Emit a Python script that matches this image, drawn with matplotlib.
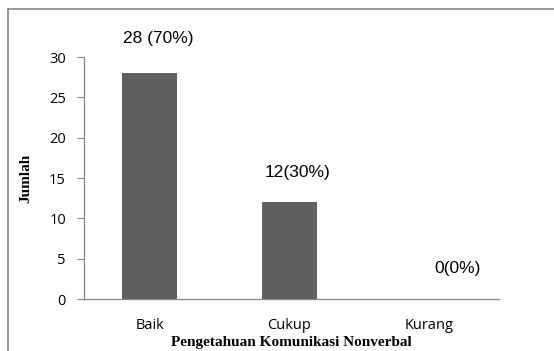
import matplotlib
matplotlib.use("Agg")
import matplotlib.pyplot as plt
from matplotlib.lines import Line2D

categories = ["Baik", "Cukup", "Kurang"]
counts = [28, 12, 0]
labels = ["28 (70%)", "12(30%)", "0(0%)"]
label_pos = [(0.06, 32.3), (1.06, 15.7), (2.2, 3.8)]

fig = plt.figure(figsize=(5.54, 3.51), dpi=100)
ax = fig.add_axes([0.1516, 0.148, 0.749, 0.6896])

ax.bar(range(len(categories)), counts, width=0.39, color="#606060")
ax.set_xlim(-0.468, 2.496)
ax.set_ylim(0, 30)
ax.set_yticks(range(0, 31, 5))
ax.set_xticks(range(len(categories)))
ax.set_xticklabels(categories)

for s in ["top", "right"]:
    ax.spines[s].set_visible(False)
for s in ["left", "bottom"]:
    ax.spines[s].set_color("#868686")
    ax.spines[s].set_linewidth(0.9)

ax.tick_params(axis="y", length=5, color="#868686", labelsize=10.5, pad=8)
ax.tick_params(axis="x", length=0, labelsize=10.5, pad=14)
for t in ax.get_xticklabels() + ax.get_yticklabels():
    t.set_family(["Open Sans", "DejaVu Sans"])

ax.set_xlabel("Pengetahuan Komunikasi Nonverbal", family="Liberation Serif",
              fontweight="bold", fontsize=11, labelpad=2)
ax.set_ylabel("Jumlah", family="Liberation Serif", fontweight="bold",
              fontsize=11, labelpad=12)

for txt, (x, y) in zip(labels, label_pos):
    ax.text(x, y, txt, ha="center", va="center", fontsize=12.5,
            family=["Liberation Sans Narrow", "Liberation Sans"], clip_on=False)

# outer frame (left and top edges visible)
fig.add_artist(Line2D([8 / 554, 8 / 554], [0, 1 - 9 / 351], color="#888888", lw=1.2))
fig.add_artist(Line2D([8 / 554, 1], [1 - 9 / 351, 1 - 9 / 351], color="#888888", lw=1.2))

fig.savefig("out.png", dpi=100)
